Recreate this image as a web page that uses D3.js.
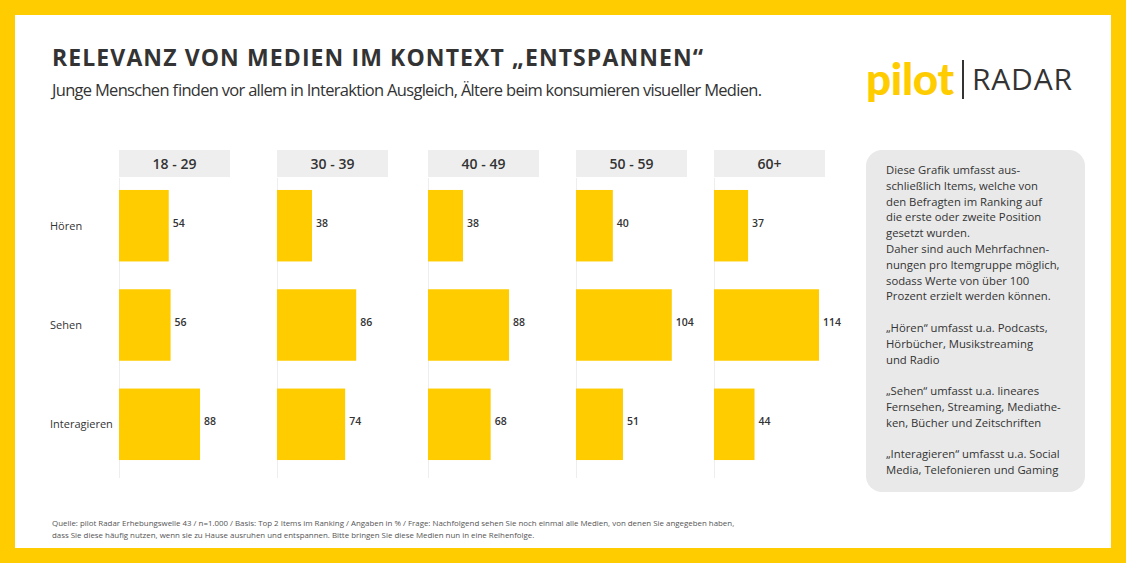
<!DOCTYPE html>
<html><head><meta charset="utf-8">
<script src="https://cdn.jsdelivr.net/npm/d3@7"></script>
<style>body{margin:0;background:#FFCC00}svg{display:block}</style></head>
<body><svg id="c" width="1126" height="563"></svg>
<script>
const groups = ["18 - 29","30 - 39","40 - 49","50 - 59","60+"];
const categories = ["Hören","Sehen","Interagieren"];
const values = {
  "18 - 29":[54,56,88],
  "30 - 39":[38,86,74],
  "40 - 49":[38,88,68],
  "50 - 59":[40,104,51],
  "60+":[37,114,44]
};
const panelLeft = [119,277,428,576,714];
const F = "'Open Sans', sans-serif";
const svg = d3.select("#c");
svg.append("rect").attr("x",15).attr("y",15).attr("width",1096).attr("height",533).attr("fill","#fff");
svg.append("text").attr("x",52).attr("y",66).attr("font-family",F).attr("font-weight",700).attr("font-size",23)
  .attr("fill","#333").attr("textLength",651).text("RELEVANZ VON MEDIEN IM KONTEXT „ENTSPANNEN“");
svg.append("text").attr("x",52).attr("y",96).attr("font-family",F).attr("font-size",16.5)
  .attr("fill","#333").attr("textLength",710).text("Junge Menschen finden vor allem in Interaktion Ausgleich, Ältere beim konsumieren visueller Medien.");
const lg = svg.append("g");
lg.append("text").attr("x",866).attr("y",95).attr("font-family","Lato, sans-serif").attr("font-weight",900).attr("font-size",44).attr("fill","#FFCC00").attr("textLength",88).text("pilot");
lg.append("rect").attr("x",962).attr("y",60).attr("width",2).attr("height",39).attr("fill","#333");
lg.append("text").attr("x",972).attr("y",90).attr("font-family",F).attr("font-size",30).attr("fill","#333").attr("textLength",100).text("RADAR");

const x = d3.scaleLinear().domain([0,114]).range([0,105]);
const y = d3.scaleBand().domain(categories).range([185,465]).paddingInner(0.28).paddingOuter(0.05);
categories.forEach(c=>{
  svg.append("text").attr("x",50).attr("y",y(c)+y.bandwidth()/2+4).attr("font-family",F).attr("font-size",11).attr("fill","#333").text(c);
});
groups.forEach((g,i)=>{
  const p = svg.append("g").attr("transform",`translate(${panelLeft[i]},0)`);
  p.append("line").attr("x1",0.5).attr("x2",0.5).attr("y1",178).attr("y2",478).attr("stroke","#eee");
  p.append("rect").attr("x",0).attr("y",150).attr("width",111).attr("height",27).attr("fill","#eeeeee");
  p.append("text").attr("x",55.5).attr("y",169).attr("text-anchor","middle").attr("font-family",F).attr("font-weight",600).attr("font-size",14).attr("fill","#333").text(g);
  p.selectAll("rect.b").data(values[g]).join("rect").attr("class","b")
    .attr("x",0).attr("y",(d,j)=>y(categories[j])).attr("width",d=>x(d)).attr("height",y.bandwidth()).attr("fill","#FFCC00");
  p.selectAll("text.v").data(values[g]).join("text").attr("class","v")
    .attr("x",d=>x(d)+4).attr("y",(d,j)=>y(categories[j])+y.bandwidth()/2+1)
    .attr("font-family",F).attr("font-weight",600).attr("font-size",10.5).attr("fill","#333").text(d=>d);
});
svg.append("rect").attr("x",866).attr("y",150).attr("width",219).attr("height",342).attr("rx",16).attr("fill","#e9e9e9");
const lines = ["Diese Grafik umfasst aus-","schließlich Items, welche von","den Befragten im Ranking auf","die erste oder zweite Position","gesetzt wurden.","Daher sind auch Mehrfachnen-","nungen pro Itemgruppe möglich,","sodass Werte von über 100","Prozent erzielt werden können.","","„Hören“ umfasst u.a. Podcasts,","Hörbücher, Musikstreaming","und Radio","","„Sehen“ umfasst u.a. lineares","Fernsehen, Streaming, Mediathe-","ken, Bücher und Zeitschriften","","„Interagieren“ umfasst u.a. Social","Media, Telefonieren und Gaming"];
svg.append("g").selectAll("text").data(lines).join("text").attr("x",886).attr("y",(d,i)=>174+i*15.8)
  .attr("font-family",F).attr("font-size",11.3).attr("fill","#333").text(d=>d);
const foot = ["Quelle: pilot Radar Erhebungswelle 43 / n=1.000 / Basis: Top 2 Items im Ranking / Angaben in % / Frage: Nachfolgend sehen Sie noch einmal alle Medien, von denen Sie angegeben haben,","dass Sie diese häufig nutzen, wenn sie zu Hause ausruhen und entspannen.  Bitte bringen Sie diese Medien nun in eine Reihenfolge."];
svg.append("g").selectAll("text").data(foot).join("text").attr("x",52).attr("y",(d,i)=>526+i*12)
  .attr("font-family",F).attr("font-size",7.9).attr("fill","#555").text(d=>d);
</script></body></html>
